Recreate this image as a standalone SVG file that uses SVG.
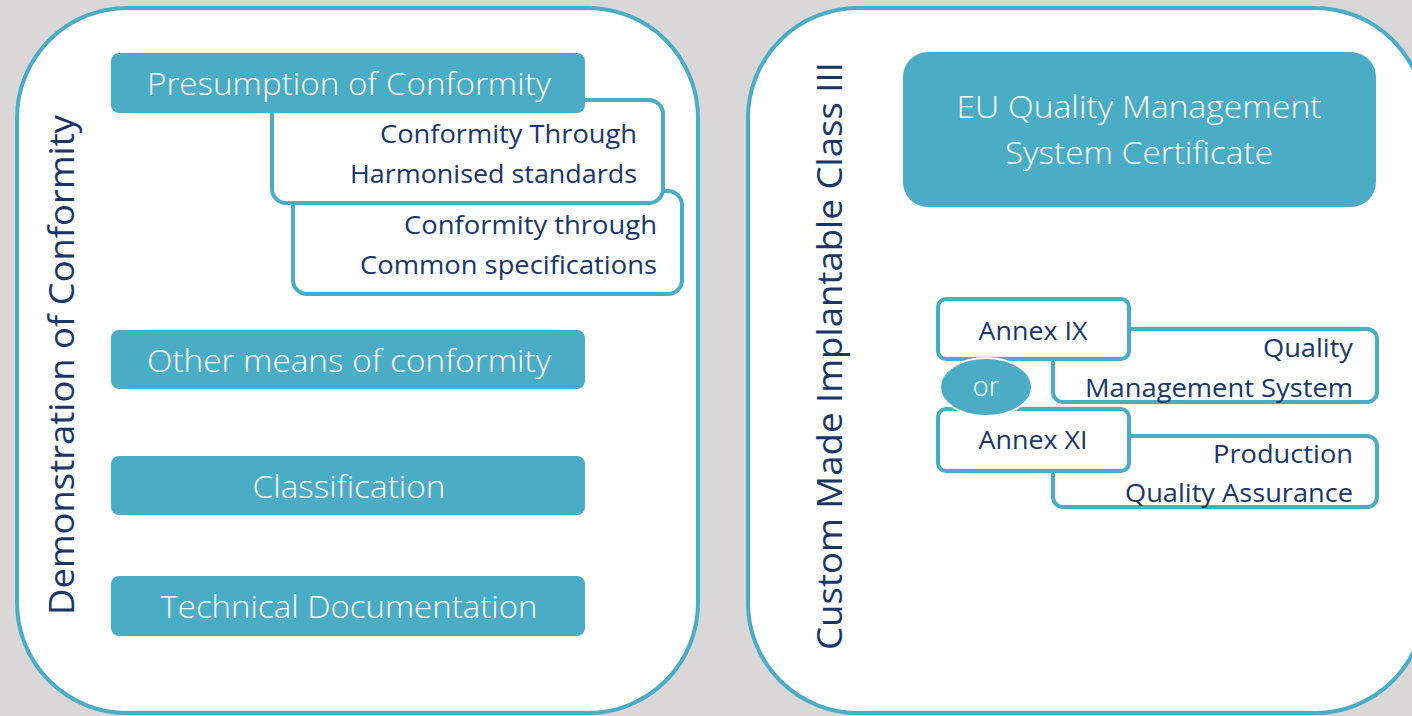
<svg xmlns="http://www.w3.org/2000/svg" width="1412" height="716" viewBox="0 0 1412 716">
  <style>
    .panel { fill: #ffffff; stroke: #4bacc6; stroke-width: 4; }
    .solid { fill: #4bacc6; }
    .frame { fill: #ffffff; stroke: #4bacc6; stroke-width: 4; }
    .lbl { font-family: "Open Sans", "Liberation Sans", sans-serif; font-weight: 300; }
    .light { fill: #ffffff; font-size: 31px; text-anchor: middle; }
    .dark { fill: #1a3668; font-size: 26px; font-weight: 400; }
    .side { fill: #1a3668; font-size: 35px; text-anchor: middle; font-weight: 400; }
  </style>
  <rect width="1412" height="716" fill="#d9d7d8"/>

  <!-- left panel -->
  <g id="panel-demonstration">
    <rect class="panel" x="17" y="8" width="681" height="705" rx="110" ry="110"/>
    <text class="lbl side" transform="translate(74,365) rotate(-90)" textLength="500" lengthAdjust="spacingAndGlyphs">Demonstration of Conformity</text>
  </g>

  <!-- right panel -->
  <g id="panel-custom-made">
    <rect class="panel" x="748" y="8" width="677" height="705" rx="110" ry="110"/>
    <text class="lbl side" transform="translate(842,356) rotate(-90)" textLength="588" lengthAdjust="spacingAndGlyphs">Custom Made Implantable Class III</text>
  </g>

  <!-- common specifications (behind harmonised standards) -->
  <g id="common-specifications">
    <rect class="frame" x="293" y="191" width="389" height="103" rx="14"/>
    <text class="lbl dark" text-anchor="end" x="657" y="234" textLength="253" lengthAdjust="spacingAndGlyphs">Conformity through</text>
    <text class="lbl dark" text-anchor="end" x="657" y="274" textLength="297" lengthAdjust="spacingAndGlyphs">Common specifications</text>
  </g>

  <g id="harmonised-standards">
    <rect class="frame" x="272" y="100" width="391" height="103" rx="14"/>
    <text class="lbl dark" text-anchor="end" x="637" y="143" textLength="257" lengthAdjust="spacingAndGlyphs">Conformity Through</text>
    <text class="lbl dark" text-anchor="end" x="637" y="183" textLength="287" lengthAdjust="spacingAndGlyphs">Harmonised standards</text>
  </g>

  <g id="presumption">
    <rect class="solid" x="111" y="53" width="474" height="60" rx="8"/>
    <text class="lbl light" x="349" y="95" textLength="404" lengthAdjust="spacingAndGlyphs">Presumption of Conformity</text>
  </g>

  <g id="other-means">
    <rect class="solid" x="111" y="330" width="474" height="59" rx="8"/>
    <text class="lbl light" x="349" y="372" textLength="404" lengthAdjust="spacingAndGlyphs">Other means of conformity</text>
  </g>

  <g id="classification">
    <rect class="solid" x="111" y="456" width="474" height="59" rx="8"/>
    <text class="lbl light" x="349" y="498" textLength="193" lengthAdjust="spacingAndGlyphs">Classification</text>
  </g>

  <g id="technical-documentation">
    <rect class="solid" x="111" y="576" width="474" height="60" rx="8"/>
    <text class="lbl light" x="349" y="618" textLength="377" lengthAdjust="spacingAndGlyphs">Technical Documentation</text>
  </g>

  <g id="eu-qms-certificate">
    <rect class="solid" x="903" y="52" width="473" height="155" rx="25"/>
    <text class="lbl light" x="1139" y="118" textLength="365" lengthAdjust="spacingAndGlyphs">EU Quality Management</text>
    <text class="lbl light" x="1139" y="164" textLength="268" lengthAdjust="spacingAndGlyphs">System Certificate</text>
  </g>

  <g id="quality-management-system">
    <rect class="frame" x="1053" y="329" width="324" height="73" rx="10"/>
    <text class="lbl dark" text-anchor="end" x="1353" y="357" textLength="90" lengthAdjust="spacingAndGlyphs">Quality</text>
    <text class="lbl dark" text-anchor="end" x="1353" y="397" textLength="268" lengthAdjust="spacingAndGlyphs">Management System</text>
  </g>

  <g id="annex-ix">
    <rect class="frame" x="938" y="299" width="191" height="60" rx="8"/>
    <text class="lbl dark" text-anchor="middle" x="1033" y="340" textLength="109" lengthAdjust="spacingAndGlyphs">Annex IX</text>
  </g>

  <g id="production-quality-assurance">
    <rect class="frame" x="1053" y="436" width="324" height="71" rx="10"/>
    <text class="lbl dark" text-anchor="end" x="1353" y="463" textLength="140" lengthAdjust="spacingAndGlyphs">Production</text>
    <text class="lbl dark" text-anchor="end" x="1353" y="502" textLength="228" lengthAdjust="spacingAndGlyphs">Quality Assurance</text>
  </g>

  <g id="annex-xi">
    <rect class="frame" x="938" y="409" width="191" height="62" rx="8"/>
    <text class="lbl dark" text-anchor="middle" x="1033" y="449" textLength="109" lengthAdjust="spacingAndGlyphs">Annex XI</text>
  </g>

  <g id="or">
    <ellipse cx="986" cy="387" rx="46" ry="29" fill="#4bacc6" stroke="#ffffff" stroke-width="2"/>
    <text class="lbl" x="986" y="396" fill="#ffffff" font-size="27" text-anchor="middle">or</text>
  </g>

  <g id="connectors"></g>
</svg>
